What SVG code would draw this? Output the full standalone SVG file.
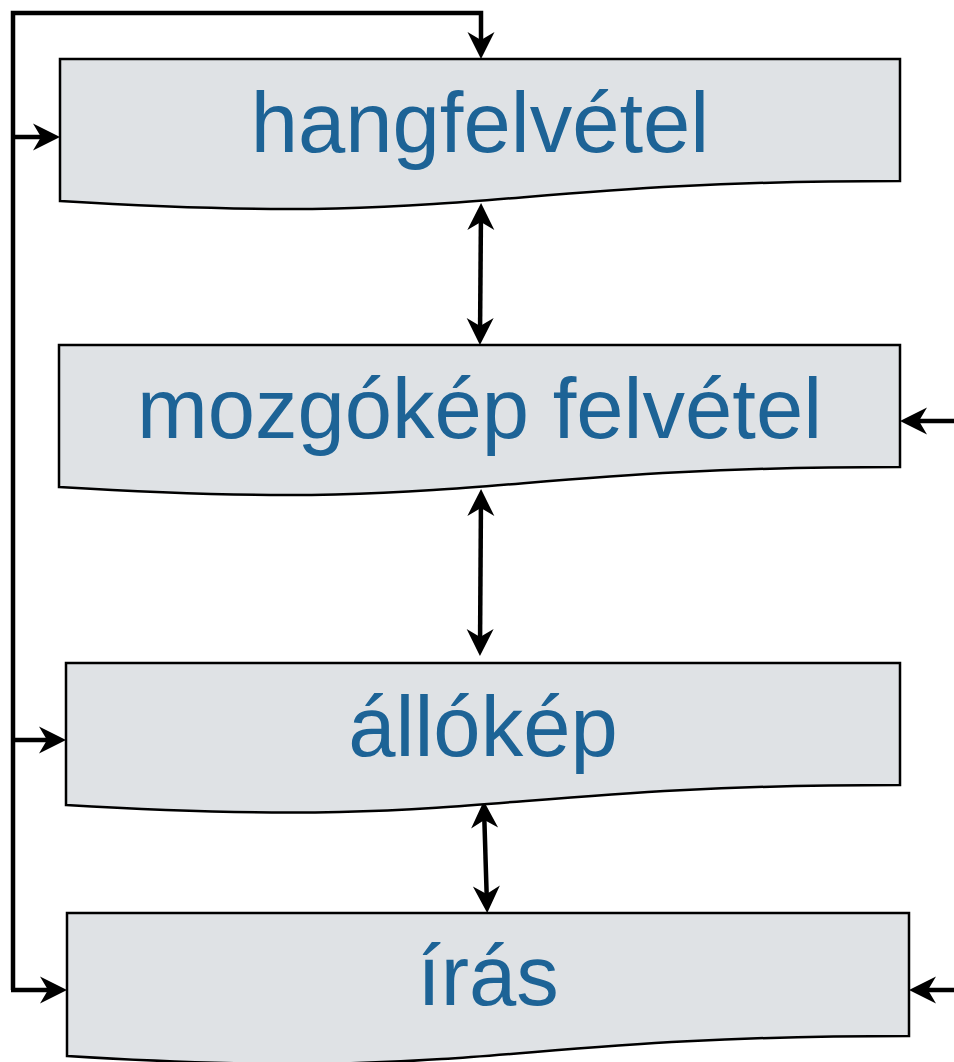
<svg xmlns="http://www.w3.org/2000/svg" width="954" height="1062" viewBox="0 0 954 1062">
<style>
.box{fill:#dfe2e5;stroke:#000;stroke-width:2.5;stroke-linejoin:miter}
.lbl{font-family:"Liberation Sans",Arial,sans-serif;font-size:85px;fill:#1d6396;text-anchor:middle}
.con{fill:none;stroke:#000;stroke-width:4.5;stroke-linejoin:miter}
</style>
<defs>
<marker id="ah" markerUnits="userSpaceOnUse" viewBox="-22 -15 32 30" refX="0" refY="0" markerWidth="32" markerHeight="30" orient="auto-start-reverse">
<path d="M7,0 L-20,-13.5 L-12,0 L-20,13.5 Z" fill="#000"/>
</marker>
</defs>
<rect width="954" height="1062" fill="#fff"/>
<g id="connectors">
<path class="con" d="M13,990 V13 H481 V52" marker-end="url(#ah)"/>
<path class="con" d="M13,137 H53" marker-end="url(#ah)"/>
<path class="con" d="M13,740 H59" marker-end="url(#ah)"/>
<path class="con" d="M11,990 H60" marker-end="url(#ah)"/>
<path class="con" d="M954,421 H907" marker-end="url(#ah)"/>
<path class="con" d="M954,990 H916" marker-end="url(#ah)"/>
<path class="con" d="M481,210 L480,338" marker-start="url(#ah)" marker-end="url(#ah)"/>
<path class="con" d="M481,496 L480,649" marker-start="url(#ah)" marker-end="url(#ah)"/>
<path class="con" d="M484,808 L487,906" marker-start="url(#ah)" marker-end="url(#ah)"/>
</g>
<g id="hangfelvetel">
<path class="box" d="M60,59 H900 V181 C480,181 480,227 60,201 Z"/>
<text class="lbl" x="480" y="152">hangfelvétel</text>
</g>
<g id="mozgokep">
<path class="box" d="M59,345 H900 V467 C479.5,467 479.5,513 59,487 Z"/>
<text class="lbl" x="479.5" y="438">mozgókép felvétel</text>
</g>
<g id="allokep">
<path class="box" d="M66,663 H900 V785 C483,785 483,830 66,805 Z"/>
<text class="lbl" x="483" y="756">állókép</text>
</g>
<g id="iras">
<path class="box" d="M67,913 H909 V1036 C488,1036 488,1082 67,1056 Z"/>
<text class="lbl" x="488" y="1005">írás</text>
</g>
</svg>
